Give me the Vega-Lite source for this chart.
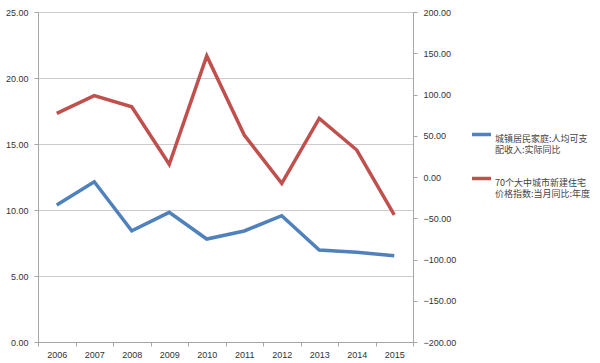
{
  "$schema": "https://vega.github.io/schema/vega-lite/v6.json",
  "autosize": "none",
  "width": 375,
  "height": 330,
  "padding": {"left": 38, "top": 12, "right": 187, "bottom": 21},
  "background": "white",
  "config": {
    "view": {"stroke": null},
    "font": "Liberation Sans",
    "axis": {"labelFont": "Liberation Sans", "labelFontSize": 9, "labelColor": "#333333", "domainColor": "#a6a6a6", "tickColor": "#a6a6a6", "gridColor": "#cccccc", "tickSize": 4, "title": null}
  },
  "data": {"values": [
    {"year": "2006", "income": 10.38, "price": 77.2},
    {"year": "2007", "income": 12.14, "price": 98.6},
    {"year": "2008", "income": 8.43, "price": 85.2},
    {"year": "2009", "income": 9.82, "price": 15.4},
    {"year": "2010", "income": 7.8, "price": 146.7},
    {"year": "2011", "income": 8.41, "price": 50.9},
    {"year": "2012", "income": 9.57, "price": -7.6},
    {"year": "2013", "income": 6.97, "price": 71.1},
    {"year": "2014", "income": 6.8, "price": 32.7},
    {"year": "2015", "income": 6.54, "price": -46.0}
  ]},
  "encoding": {
    "x": {"field": "year", "type": "nominal", "scale": {"paddingInner": 0, "paddingOuter": 0},
      "axis": {"labelAngle": 0, "tickBand": "extent", "grid": false, "labelPadding": 4}}
  },
  "layer": [
    {
      "mark": {"type": "line", "strokeWidth": 3.5},
      "encoding": {
        "y": {"field": "income", "type": "quantitative", "scale": {"domain": [0, 25], "nice": false},
          "axis": {"values": [0, 5, 10, 15, 20, 25], "format": ".2f", "grid": true, "orient": "left", "labelPadding": 6}},
        "color": {"datum": "城镇居民家庭:人均可支配收入:实际同比", "type": "nominal",
          "scale": {"domain": ["城镇居民家庭:人均可支配收入:实际同比", "70个大中城市新建住宅价格指数:当月同比:年度"], "range": ["#4F81BD", "#C0504D"]},
          "legend": {
            "orient": "none", "legendX": 432, "legendY": 111,
            "title": null, "symbolType": "stroke", "symbolStrokeWidth": 3.5, "symbolSize": 360,
            "labelFont": "Noto Sans CJK SC", "labelFontSize": 9, "labelColor": "#444444",
            "labelLimit": 200, "rowPadding": 12, "labelOffset": 2, "labelBaseline": "top",
            "labelExpr": "datum.label == '城镇居民家庭:人均可支配收入:实际同比' ? ['城镇居民家庭:人均可支', '配收入:实际同比'] : ['70个大中城市新建住宅', '价格指数:当月同比:年度']"
          }}
      }
    },
    {
      "mark": {"type": "line", "strokeWidth": 3.5},
      "encoding": {
        "y": {"field": "price", "type": "quantitative", "scale": {"domain": [-200, 200], "nice": false},
          "axis": {"values": [-200, -150, -100, -50, 0, 50, 100, 150, 200], "format": ".2f", "grid": false, "orient": "right", "labelPadding": 6}},
        "color": {"datum": "70个大中城市新建住宅价格指数:当月同比:年度", "type": "nominal"}
      }
    }
  ],
  "resolve": {"scale": {"y": "independent"}}
}
